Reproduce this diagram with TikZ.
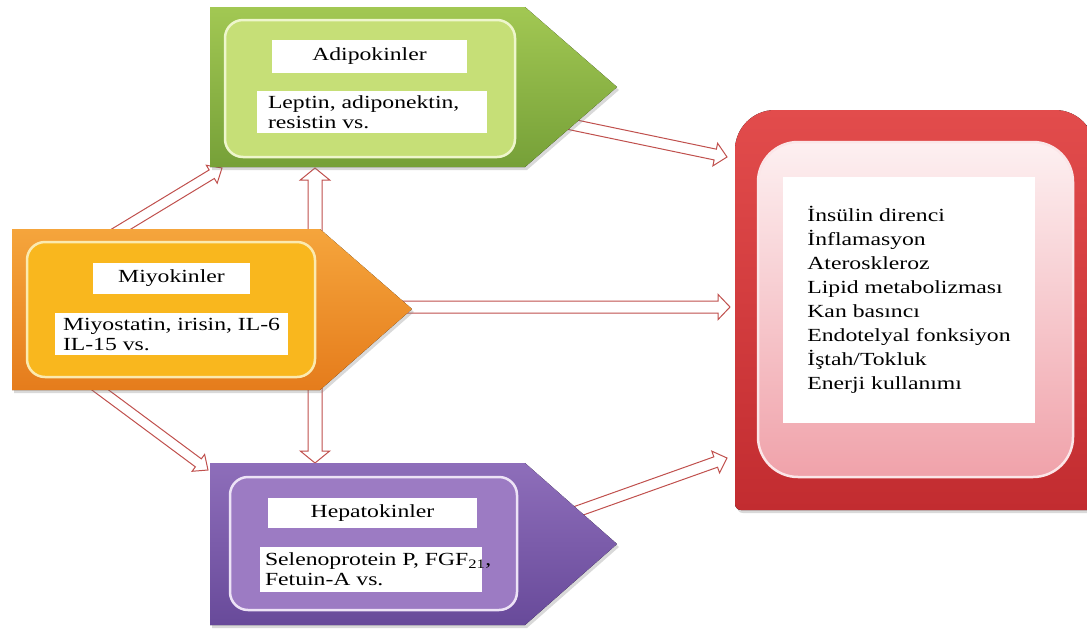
\documentclass[tikz,border=0pt]{standalone}
\usepackage{fontspec}
\setmainfont{Liberation Serif}[FakeStretch=1.28]
\usepackage{xcolor}
\usetikzlibrary{arrows.meta, positioning, calc, shadows, backgrounds}
\definecolor{adipoTop}{HTML}{A2C853}
\definecolor{adipoBot}{HTML}{76A038}
\definecolor{adipoPanel}{HTML}{C6DF77}
\definecolor{adipoRim}{HTML}{EEF6CC}
\definecolor{myoTop}{HTML}{F5A53C}
\definecolor{myoBot}{HTML}{E57C1C}
\definecolor{myoPanel}{HTML}{F9B71E}
\definecolor{myoRim}{HTML}{FBEAB0}
\definecolor{hepaTop}{HTML}{8E6EBA}
\definecolor{hepaBot}{HTML}{684A9A}
\definecolor{hepaPanel}{HTML}{9C7BC3}
\definecolor{hepaRim}{HTML}{EDE3F6}
\definecolor{effTop}{HTML}{E24C4C}
\definecolor{effBot}{HTML}{C22C30}
\definecolor{effPanelTop}{HTML}{FDF0F1}
\definecolor{effPanelBot}{HTML}{F0A2AA}
\definecolor{effRim}{HTML}{FBE6E8}
\definecolor{arrowRed}{HTML}{C0504D}

\newcommand{\hollowarrow}[3][6]{%
  \pgfmathsetmacro{\headw}{2.1*#1}%
  \draw[hollow] ($(#2)!#1pt!90:(#3)$) -- ($(#3)!12pt!(#2)!#1pt!90:(#3)$)
    -- ($(#3)!12pt!(#2)!\headw pt!90:(#3)$) -- (#3)
    -- ($(#3)!12pt!(#2)!\headw pt!-90:(#3)$) -- ($(#3)!12pt!(#2)!#1pt!-90:(#3)$)
    -- ($(#2)!#1pt!-90:(#3)$) -- cycle;}

\begin{document}
\begin{tikzpicture}[
    x=1pt, y=-1pt,
    every node/.style={font=\fontsize{18.5}{20}\selectfont},
    outer/.style={drop shadow={opacity=0.3, shadow xshift=2pt, shadow yshift=-3pt}},
    panel/.style={rectangle, rounded corners=18pt, line width=2.5pt, inner sep=0pt},
    titlebox/.style={rectangle, fill=white, inner sep=0pt},
    bodybox/.style={rectangle, fill=white, inner sep=0pt},
    bodytext/.style={align=left, inner sep=0pt},
    hollow/.style={draw=arrowRed, fill=white, line width=1pt, line join=miter}
]

\useasboundingbox (0,0) rectangle (1087,630);

\fill[outer, top color=adipoTop, bottom color=adipoBot]
    (210,7) -- (525,7) -- (617,87) -- (525,167) -- (210,167) -- cycle;
\fill[outer, top color=myoTop, bottom color=myoBot]
    (12,229) -- (320,229) -- (412,309) -- (320,390) -- (12,390) -- cycle;
\fill[outer, top color=hepaTop, bottom color=hepaBot]
    (210,463) -- (525,463) -- (617,544) -- (525,625) -- (210,625) -- cycle;
\fill[outer, top color=effTop, bottom color=effBot]
    (1095,510) [rounded corners=6pt] -- (735,510) [rounded corners=40pt] -- (735,110)
    -- (1095,110) [sharp corners] -- cycle;

\node[panel, fill=adipoPanel, draw=adipoRim, minimum width=290pt, minimum height=137pt] (adipoPanel) at (370,88.5) {};
\node[panel, fill=myoPanel, draw=myoRim, minimum width=288pt, minimum height=135pt] (myoPanel) at (171,309.5) {};
\node[panel, fill=hepaPanel, draw=hepaRim, minimum width=287pt, minimum height=133pt] (hepaPanel) at (373.5,543.5) {};
\node[panel, rounded corners=40pt, top color=effPanelTop, bottom color=effPanelBot, draw=effRim,
      minimum width=315pt, minimum height=335pt] (effPanel) at (915.5,309.5) {};

\node[titlebox, minimum width=195pt, minimum height=33pt] (adipoTitle) at (369.5,56.5) {Adipokinler};
\node[bodybox, minimum width=230pt, minimum height=42pt] (adipoBody) at (372,112) {};
\node[bodytext, right=11pt of adipoBody.west] (adipoText) {Leptin, adiponektin,\\resistin vs.};

\node[titlebox, minimum width=157pt, minimum height=31pt] (myoTitle) at (171.5,278.5) {Miyokinler};
\node[bodybox, minimum width=233pt, minimum height=42pt] (myoBody) at (171.5,334) {};
\node[bodytext, right=8pt of myoBody.west] (myoText) {Miyostatin, irisin, IL-6\\IL-15 vs.};

\node[titlebox, minimum width=209pt, minimum height=30pt] (hepaTitle) at (372.5,513) {Hepatokinler};
\node[bodybox, minimum width=222pt, minimum height=45pt] (hepaBody) at (371,569.5) {};
\node[bodytext, right=5pt of hepaBody.west] (hepaText) {Selenoprotein P, FGF\textsubscript{21},\\Fetuin-A vs.};

\node[bodybox, minimum width=252pt, minimum height=246pt, align=left,
      font=\fontsize{18.5}{24}\selectfont] (effList) at (909,300)
    {İnsülin direnci\\İnflamasyon\\Ateroskleroz\\Lipid metabolizması\\Kan basıncı\\Endotelyal fonksiyon\\İştah/Tokluk\\Enerji kullanımı};

\coordinate (myoUpTail) at (90,248);
\coordinate (adipoFoot) at (222,168);
\coordinate (myoDownTail) at (76,372);
\coordinate (hepaFoot) at (208,470);
\coordinate (myoNose) at (380,307);
\coordinate (effMid) at (730,307);
\coordinate (myoTopTail) at (315,240);
\coordinate (adipoBase) at (315,168);
\coordinate (myoBotTail) at (315,380);
\coordinate (hepaTopEdge) at (315,463);
\coordinate (adipoNose) at (545,119);
\coordinate (effUpper) at (727,157);
\coordinate (hepaNose) at (550,521);
\coordinate (effLower) at (727,458);

\begin{scope}[on background layer]
    \hollowarrow[5]{myoUpTail}{adipoFoot}
    \hollowarrow[5]{myoDownTail}{hepaFoot}
    \hollowarrow[6]{myoNose}{effMid}
    \hollowarrow[7]{myoTopTail}{adipoBase}
    \hollowarrow[7]{myoBotTail}{hepaTopEdge}
    \hollowarrow[5.5]{adipoNose}{effUpper}
    \hollowarrow[5.5]{hepaNose}{effLower}
\end{scope}

\end{tikzpicture}
\end{document}
